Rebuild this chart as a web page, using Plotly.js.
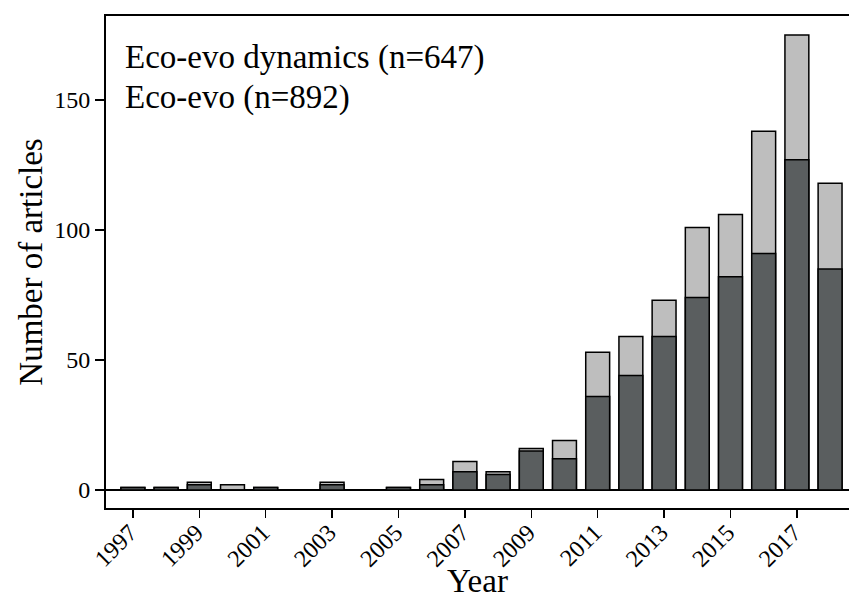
<!DOCTYPE html>
<html>
<head>
<meta charset="utf-8">
<script src="https://cdn.plot.ly/plotly-3.0.1.min.js"></script>
<style>html,body{margin:0;padding:0;background:#fff;}#chart{width:849px;height:599px;}</style>
</head>
<body>
<div id="chart"></div>
<script>
const years = [1997,1998,1999,2000,2001,2002,2003,2004,2005,2006,2007,2008,2009,2010,2011,2012,2013,2014,2015,2016,2017,2018];
// Eco-evo (all articles, light bars)
const ecoEvo = [1,1,3,2,1,0,3,0,1,4,11,7,16,19,53,59,73,101,106,138,175,118];
// Eco-evo dynamics (dark bars, overlaid)
const ecoEvoDynamics = [1,1,2,0,1,0,2,0,1,2,7,6,15,12,36,44,59,74,82,91,127,85];
const tickYears = [1997,1999,2001,2003,2005,2007,2009,2011,2013,2015,2017];
const legendLabels = ['Eco-evo dynamics (n=647)', 'Eco-evo (n=892)'];

const font = '"Liberation Serif", "Times New Roman", serif';

const traces = [
  {type:'bar', x: years, y: ecoEvo, name: legendLabels[1], width: 0.72,
   marker:{color:'#bebebe', line:{color:'#000', width:1.5}}, hoverinfo:'x+y'},
  {type:'bar', x: years, y: ecoEvoDynamics, name: legendLabels[0], width: 0.72,
   marker:{color:'#5a5e5f', line:{color:'#000', width:1.5}}, hoverinfo:'x+y'}
];

const layout = {
  width: 849, height: 599,
  margin: {l:106, r:0, t:16, b:91},
  barmode: 'overlay',
  showlegend: false,
  paper_bgcolor:'#fff', plot_bgcolor:'#fff',
  font: {family: font, color:'#000', size: 24},
  xaxis: {
    range: [1996.19, 2018.57],
    tickvals: tickYears, ticktext: tickYears.map(String),
    tickangle: -45, ticks:'outside', ticklen: 8, tickwidth: 1.5, tickcolor:'#000',
    ticklabelstandoff: -9, ticklabelshift: -3,
    showline: true, linecolor:'#000', linewidth: 2, mirror: true,
    showgrid: false, zeroline: false,
    tickfont: {family: font, size: 24},
    title: {text:'Year', font:{family: font, size: 33}, standoff: 12}
  },
  yaxis: {
    range: [-6.92, 182.3],
    tickvals: [0,50,100,150],
    ticks:'outside', ticklen: 9, tickwidth: 1.5, tickcolor:'#000',
    showline: true, linecolor:'#000', linewidth: 2, mirror: false,
    showgrid: false, zeroline: true, zerolinecolor:'#000', zerolinewidth: 1.5,
    tickfont: {family: font, size: 24},
    title: {text:'Number of articles', font:{family: font, size: 33}, standoff: 2}
  },
  annotations: [
    {xref:'paper', yref:'paper', x: 17/743, y: (508-57)/492, xanchor:'left', yanchor:'middle',
     text: legendLabels[0], showarrow:false, font:{family: font, size: 33, color:'#000'}},
    {xref:'paper', yref:'paper', x: 17/743, y: (508-98)/492, xanchor:'left', yanchor:'middle',
     text: legendLabels[1], showarrow:false, font:{family: font, size: 33, color:'#000'}}
  ]
};

Plotly.newPlot('chart', traces, layout, {displayModeBar:false, staticPlot:true});
</script>
</body>
</html>
